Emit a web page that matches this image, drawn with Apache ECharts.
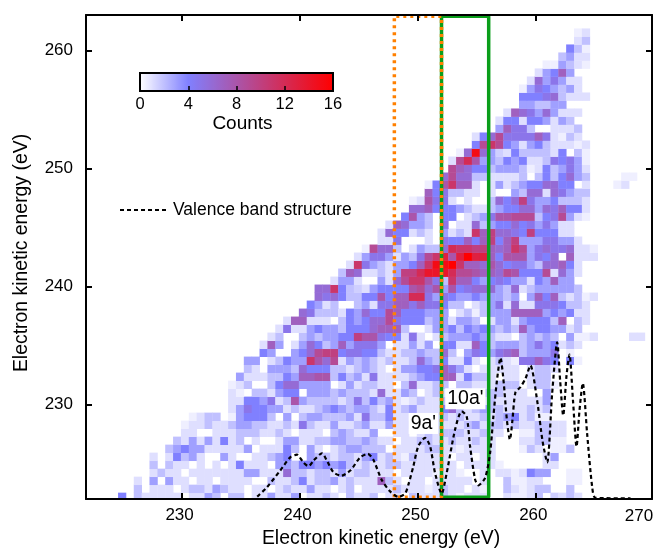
<!DOCTYPE html>
<html>
<head>
<meta charset="utf-8">
<style>html,body{margin:0;padding:0;background:#fff}#c{width:654px;height:548px}</style>
<script src="https://cdn.jsdelivr.net/npm/echarts@6/dist/echarts.min.js"></script>
</head>
<body>
<div id="c"></div>
<script>
const xTicks = [230, 240, 250, 260];
const yTicks = [230, 240, 250, 260];
const xLabelEnd = "270";
const binStartX = 221.9;   // energy of column 0's left edge
const binStartY = 221.86;  // energy of row 0's lower edge
const binX = 0.6667;
const binY = 0.678;

// first occupied column for every row, bottom row first
const rowStart = [4,6,6,8,8,8,10,11,12,12,13,18,18,18,18,19,20,20,22,22,
  23,24,25,27,28,29,29,31,32,33,34,35,37,37,38,40,41,41,43,43,
  45,46,46,47,49,49,52,52,53,55,55,55,56,57,58,60,61,62,62];

// counts in each row
const rowCounts = [
/*0*/[4,0,2,1,1,1,1,1,0,1,1,3,2,0,2,2,0,1,1,3,1,1,3,0,1,1, 2,1,0,2,1,1,2,0,1,1,0,2,1,1,1,2,1,.5,1,1,1,0,0,1,.5, .5,1,2,0,1.5,1,2,1],
/*1*/[2,0,1,1,1,0,1,2,2,1,3,2,1,1,0,1,1,0,1,2,1,1,3,1, 1,0,1,2,0,1,1,1,1,2,1,1,1,.5,1,2,1,1,0,1,.5,0,0,2,1, .5,1,2,2,0,0,2],
/*2*/[1,0,3,0,3,1,1,0,1,1,0,1,1,1,1,0,0,2,1,1,2,4,1,2, 2,3,1,2,1,1,1,7,2,1,0,1,1,0,1,1,1,1,1,0,1,0,0,2,.5, .5,1,1,0,0,0,.5,.5],
/*3*/[1,2,1,1,0,1,1,1,1,1,1,1,3,3,1,1,1,6,2,2,1,2, 2,1,3,1,2,2,1,1,1,0,1,1,1,1,.5,1,1,.5,0,0,1,0,1,1,.5, 1,4,3,3,0,0,.5,.5],
/*4*/[2,0,2,1,1,0,1,0,1,0,1,4,1,1,1,0,3,3,2,4,4,3, 4,3,4,2,1,2,1,1,2,2,1,1,1,1,1,1,1,0,1,1,1,1,.5,0,0, 0,0,0,1,1],
/*5*/[1,0,1,4,2,3,1,0,0,3,1,0,0,1,1,2,3,4,0,0,3,2, 2,1,2,2,1,3,4,1,2,1,.5,2,1,1,1,1,0,1,1,0,1,1,0,0,0, 0,0,0,1,3],
/*6*/[2,3,4,3,3,1,1,1,1,1,3,0,1,1,1,4,2,0,3,1, 0,1,2,3,3,2,2,2,0,1,1,1,1,2,2,1,1,.5,1,1,1,1,0,0,0, .5,2,1,0,.5,.5,2],
/*7*/[2,1,3,1,3,1,4,1,2,0,1,0,0,1,3,3,1,1,2, 2,3,3,2,2,3,2,1,1,0,1,1,2,2,1,1,2,1,1,2,1,1,0,0,0, 1,1,2,2,.5,.5],
/*8*/[1,1,0,0,1,1,1,2,2,2,1,1,2,1,0,1,1,1, 0,2,3,2,1,1,3,0,0,1,1,0,1,2,1,2,2,2,1,1,2,1,1,0,0, .5,.5,2,2,1,1],
/*9*/[.5,1,1,2,1,1,2,3,3,2,2,1,1,2,1,5,2,1, 1,3,1,1,2,3,1,1,3,1,1,2,2,1,1,1,1,1,2,3,1,2,2,1,2, 1,1,2,2,1,1],
/*10*/[.5,1,2,2,0,.5,3,4,4,4,2,0,3,0,2,3,3, 2,2,2,3,1,5,2,2,4,1,1,1,2,1,1,2,1,2,1,1,2,1,2,3,4, 1,2,.5,.5],
/*11*/[1,3,5,4,4,3,3,1,2,1,1,2, 3,4,3,2,3,3,2,1,4,1,2,3,1,1,1,4,6,2,1,2,3,2,2,1,1, 1,2,1,2],
/*12*/[1,1,4,4,3,5,1,2,8,3,2,2, 2,2,1,2,5,2,4,2,3,1,.5,1,2,1,1,2,1,1,1,1,1,2,1,1,1, 1,1,1,3],
/*13*/[1,.5,0,2,2,1,3,4,4,0,3,3, 3,2,3,2,2,2,1,6,1,1,3,2,0,1,2,1,2,1,1,1,2,2,2,1,1, 1,0,0,3],
/*14*/[.5,1,2,0,0,2,4,6,6,3,3,3, 3,0,1,3,1,2,2,1,1,0,2,6,1,1,2,2,0,2,2,1,1,1,2,2,2, 0,1,2,2,.5],
/*15*/[3,1,1,1,2,2,4,3,7,7,8, 8,2,4,2,3,1,5,1,1,1,1,2,3,4,4,7,7,1,4,2,2,1,0,1,1, 0,1,2,2],
/*16*/[2,1,0,3,3,3,2,6,4,4, 4,2,2,1,2,3,2,1,0,1,3,3,4,4,5,7,5,3,1,0,1,1,1,1,1, 0,1,2,2,1],
/*17*/[3,3,0,1,2,4,3,3,11,8, 6,9,1,3,2,3,2,1,2,1,1,2,6,3,2,4,1,1,4,1,0,1,2,1,.5, 5,5,7,5,4,0,4,.5],
/*18*/[4,3,0,0,3,4,6,9, 10,10,4,5,5,4,4,2,1,1,2,2,3,2,2,6,2,0,3,5,4,3,5,6,7, 2,3,3,3,5,0,.5],
/*19*/[1,7,3,0,1,3,6,4, 2,3,7,3,5,5,5,3,0,1,1,3,1,3,0,4,4,1,1,7,4,2,3,3,3, 2,3,5,3,4,1,2,1],
/*20*/[1,2,0,0,2,3,2,3, 3,4,4,10,8,8,5,4,4,1,5,1,0,1,2,3,3,3, 4,3,2,1,1,0,2,3,2,3,2,0,3,.5,.5,1,0,0,0,0,1,1],
/*21*/[1,5,1,1,3,4,3, 3,2,4,4,4,6,7,7,7,2,0,0,1,3,3,4,2,4, 3,4,3,2,3,2,7,3,4,4,3,3,1,2],
/*22*/[1,7,7,1,1,1, 0,2,4,3,4,6,6,9,5,4,4,4,2,3,3,1,3,3, 2,0,1,3,3,1,3,4,4,4,2,7,0,2,1],
/*23*/[6,5,2,2, 2,1,4,3,6,4,4,9,7,4,4,4,3,3,3,0,1,2, .5,2,3,3,3,7,7,7,7,3,4,3,4,1,1],
/*24*/[4,3,1, 2,0,0,2,3,1,5,5,7,7,5,7,5,5,4,2,2,0, 1,2,3,5,1,6,1,1,5,5,5,4,2,2,1],
/*25*/[6,5, 6,4,2,2,4,4,8,4,7,7,12,12,5,3,5,4,3,3, 4,3,3,3,2,3,0,3,7,4,7,2,1,2,.5,1],
/*26*/[6,6, 11,4,2,1.5,1,3,4,4,4,4,8,9,6,8,3,8,4,5, 6,6,6,3,2,6,1,2,3,3,3,3,3,2],
/*27*/[1,3,3,1,0,0,3,1,6,9,11,11,8,5,2,11,7,7, 4,3,4,5,4,3,3,1,4,3,7,3,3],
/*28*/[2,7,6,1,1,2,1,3,10,10,12,14,14,14,12,9,9, 8,7,7,6,9,8,4,4,4,9,1,6,3,1],
/*29*/[1,11,5,3,2,1,3,3,4,7,11,15,15,16,11,7, 7,6,8,6,4,5,5,3,2,6,6,7,4,1],
/*30*/[1,3,5,5,3,1,3,2,5,9,11,13,8,13,16, 13,13,7,4,8,8,8,3,5,4,6,0,7,1,1,1],
/*31*/[.5,9,6,6,2,0,1,3,2,2,6,12,11,11, 10,10,7,6,7,11,9,3,5,6,5,5,6,1,1,.5],
/*32*/[1,1,5,0,0,0,1,0,5,4,4,7, 4,7,10,4,7,10,3,3,3,5,5,3,3,1],
/*33*/[1,6,4,4,1,2,1,0,3,1,2,1, 11,7,10,6,6,5,4,10,4,4,4,1,1],
/*34*/[1,7,6,3,3,2,0,5,0,1,1, 6,2,3,4,4,6,4,5,3,5,3,1,1],
/*35*/[4,8,3,2,0,4,4,0,1, 2,3,5,8,8,9,9,9,2,4,5,9,3,1,.5],
/*36*/[6,6,7,4,4,4,3,2, 1,1,2,3,4,4,6,6,3,6,5,7,4,4,1],
/*37*/[.5,1,8,5,5,1,0,1, 0,0,2,6,4,6,10,5,3,3,4,2,2,2,1],
/*38*/[7,4,5,2,2,1, 1,0,1,0,0,3,2,6,6,1,6,5,3,2,2],
/*39*/[.5,4,8,11,7,7, 1,0,1,3,1,2,3,4,4,6,6,4,4,0,1,0,0,0,.5,1],
/*40*/[6,9,6,6,2,2,1,1,1,1,2,0,2,4,2,4,6,3,2,0,0,0,0,.5,.5],
/*41*/[9,7,6,4,4,2,3,3,3,2,.5,1,4,2,3,5,3,1],
/*42*/[1,9,12,8,3,3,2,4,3,4,1,1,2,5,4,5,3,.5],
/*43*/[.5,6,15,6,3,1.5,1,4,2,2,2,2,1,4,0,2,.5],
/*44*/[4,9,11,9,4,3,1,3,4,2,1,1,1,.5,1],
/*45*/[1,4,6,9,5,5,5,5,7,5,1,.5,2,1],
/*46*/[3,7,5,5,2,0,0,1,1,1,2],
/*47*/[1,4,4,1,4,4,3,1,3,2],
/*48*/[1,7,6,5,3,6,3,1,1,1],
/*49*/[3,3,2,2,3,3],
/*50*/[4,4,4,5,6,2,1,1,1],
/*51*/[.5,3,5,4,3,2,3,1],
/*52*/[1,6,3,5,3,1,1],
/*53*/[1,3,4,7,3],
/*54*/[.5,.5,3,2,1,.5],
/*55*/[2,3,1,1],
/*56*/[4,2,.5],
/*57*/[1,2],
/*58*/[.5,1]
];

const valenceX = [236.37,237.19,238.32,239.17,239.74,240.27,240.72,241.15,241.86,242.28,242.84,243.50,244.26,245.11,245.75,246.21,246.92,247.63,248.34,248.91,249.19,249.61,250.03,250.60,251.03,251.45,252.01,252.44,253.15,253.71,254.13,254.42,254.85,255.13,255.70,256.12,256.40,256.70,257.00,257.25,257.55,257.80,258.01,258.27,258.69,259.12,259.54,260.11,260.56,260.96,261.38,261.81,262.06,262.32,262.60,262.85,263.15,263.45,263.70,263.98,264.35,264.78,265.06,268.03];
const valenceY = [222.20,222.99,224.41,225.53,225.76,225.11,224.77,225.25,225.87,225.25,224.26,223.98,224.41,225.53,225.82,225.34,223.64,222.65,222.18,222.46,223.22,224.77,226.47,227.18,226.47,224.21,222.46,224.21,227.88,229.43,229.01,226.47,223.64,223.16,223.79,225.91,229.01,232.03,233.96,232.12,228.64,227.03,228.64,231.04,231.47,232.20,233.31,230.34,226.95,225.11,230.91,235.28,232.03,229.07,232.46,234.24,230.34,226.44,229.49,231.81,227.52,222.99,222.10,222.05];

const orangeBox = [[248,222.15],[248,262.9],[252,262.9],[252,222.15],[248,222.15]];
const greenBox = [[252,222.15],[252,262.9],[256,262.9],[256,222.15],[252,222.15]];
const peakLabels = [{value:[250.46,228.4],name:"9a'"},{value:[254.02,230.5],name:"10a'"}];

const FONT = '"Liberation Sans", Arial, sans-serif';
const cells = [];
rowCounts.forEach((vals, r) => {
  vals.forEach((v, i) => {
    if (v > 0) cells.push([binStartX + (rowStart[r] + i) * binX, binStartY + r * binY, v]);
  });
});
const tick = {show:true, inside:true, length:6, lineStyle:{color:'#000', width:2}};
const line = {show:true, onZero:false, lineStyle:{color:'#000', width:2}};
const main = {min:221.85, max:269.85};
const chart = echarts.init(document.getElementById('c'), null, {renderer:'canvas'});
chart.setOption({
  animation:false,
  backgroundColor:'#fff',
  textStyle:{fontFamily:FONT},
  grid:[
    {left:86, top:15, width:566, height:484, show:false, outerBoundsMode:'none'},
    {left:140, top:73, width:193, height:18, show:true, backgroundColor:'transparent', borderColor:'#000', borderWidth:2, z:6, outerBoundsMode:'none'}
  ],
  xAxis:[
    {type:'value', gridIndex:0, position:'bottom', min:main.min, max:main.max, z:6, splitLine:{show:false}, axisLine:line,
     axisTick:{...tick, customValues:xTicks},
     axisLabel:{customValues:xTicks, color:'#000', fontSize:17, margin:8, fontFamily:FONT, hideOverlap:false, padding:[0,5,0,0]},
     name:'Electron kinetic energy (eV)', nameLocation:'middle', nameGap:28, nameTextStyle:{color:'#000', fontSize:19.4, fontFamily:FONT, padding:[0,0,0,24]}},
    {type:'value', gridIndex:0, position:'top', min:main.min, max:main.max, z:6, splitLine:{show:false}, axisLine:line,
     axisTick:{...tick, customValues:xTicks}, axisLabel:{show:false}},
    {type:'value', gridIndex:1, position:'bottom', min:0, max:16, interval:4, z:7, splitLine:{show:false},
     axisLine:{show:false}, axisTick:{show:true, inside:true, length:5, lineStyle:{color:'#000', width:1.5}},
     axisLabel:{color:'#000', fontSize:16.5, margin:5, fontFamily:FONT, showMinLabel:true, showMaxLabel:true, hideOverlap:false},
     name:'Counts', nameLocation:'middle', nameGap:21, nameTextStyle:{color:'#000', fontSize:19, fontFamily:FONT, padding:[0,0,0,12]}}
  ],
  yAxis:[
    {type:'value', gridIndex:0, position:'left', min:222, max:263, z:6, splitLine:{show:false}, axisLine:line,
     axisTick:{...tick, customValues:yTicks},
     axisLabel:{customValues:yTicks, color:'#000', fontSize:17, margin:13, fontFamily:FONT},
     name:'Electron kinetic energy (eV)', nameLocation:'middle', nameGap:55, nameTextStyle:{color:'#000', fontSize:19.4, fontFamily:FONT, padding:[0,0,0,8]}},
    {type:'value', gridIndex:0, position:'right', min:222, max:263, z:6, splitLine:{show:false}, axisLine:line,
     axisTick:{...tick, customValues:yTicks}, axisLabel:{show:false}},
    {type:'value', gridIndex:1, min:0, max:1, show:false}
  ],
  visualMap:{
    type:'continuous', min:0, max:16, seriesIndex:0, dimension:2, orient:'horizontal',
    left:140, top:73, itemWidth:18, itemHeight:193, padding:0, calculable:false, realtime:false,
    text:null, showLabel:false, z:1, hoverLink:false,
    inRange:{color:['#ffffff','#8080ff','#aa55aa','#d42b55','#ff0000']},
    textStyle:{color:'transparent', fontSize:1}
  },
  legend:{
    data:[{name:'Valence band structure', itemStyle:{opacity:0}}], left:119, top:201, itemWidth:47, itemHeight:18, padding:0,
    selectedMode:false, itemStyle:{opacity:0}, textStyle:{color:'#000', fontSize:17.5, fontFamily:FONT, padding:[0,0,0,1]}
  },
  series:[
    {type:'custom', name:'Counts', xAxisIndex:0, yAxisIndex:0, coordinateSystem:'cartesian2d', clip:true, z:2, silent:true,
     encode:{x:0, y:1},
     data:cells,
     renderItem:(p, api) => {
       const x = api.value(0), y = api.value(1);
       const a = api.coord([x, y + binY]), b = api.coord([x + binX, y]);
       return {type:'rect', shape:{x:a[0], y:a[1], width:b[0]-a[0]+0.4, height:b[1]-a[1]+0.4},
               style:{fill:api.visual('color')}};
     }},
    {type:'line', name:'green', data:greenBox, symbol:'none', xAxisIndex:0, yAxisIndex:0, z:3, silent:true,
     lineStyle:{color:'#0a9e1a', width:3.5}},
    {type:'line', name:'orange', data:orangeBox, symbol:'none', xAxisIndex:0, yAxisIndex:0, z:4, silent:true,
     lineStyle:{color:'#ff8000', width:3.5, type:[3,4]}},
    {type:'line', name:'Valence band structure', data:valenceX.map((x,i)=>[x,valenceY[i]]), symbol:'none', smooth:0.25,
     xAxisIndex:0, yAxisIndex:0, z:5, silent:true, clip:false,
     lineStyle:{color:'#000', width:2.2, type:[4,3]}},
    {type:'scatter', name:'peaks', data:peakLabels, symbol:'circle', symbolSize:1, xAxisIndex:0, yAxisIndex:0, z:6, silent:true,
     itemStyle:{color:'rgba(255,255,255,0)', opacity:1},
     label:{show:true, opacity:1, position:'inside', formatter:'{b}', color:'#000', fontSize:19.5, fontFamily:FONT, backgroundColor:'#fff', padding:[1,2,0,2]}}
  ],
  graphic:[
    {type:'text', x:639, y:516, z:10, silent:true, style:{text:xLabelEnd, fill:'#000', font:'17px '+FONT, textAlign:'center', textVerticalAlign:'middle'}}
  ]
});
</script>
</body>
</html>
